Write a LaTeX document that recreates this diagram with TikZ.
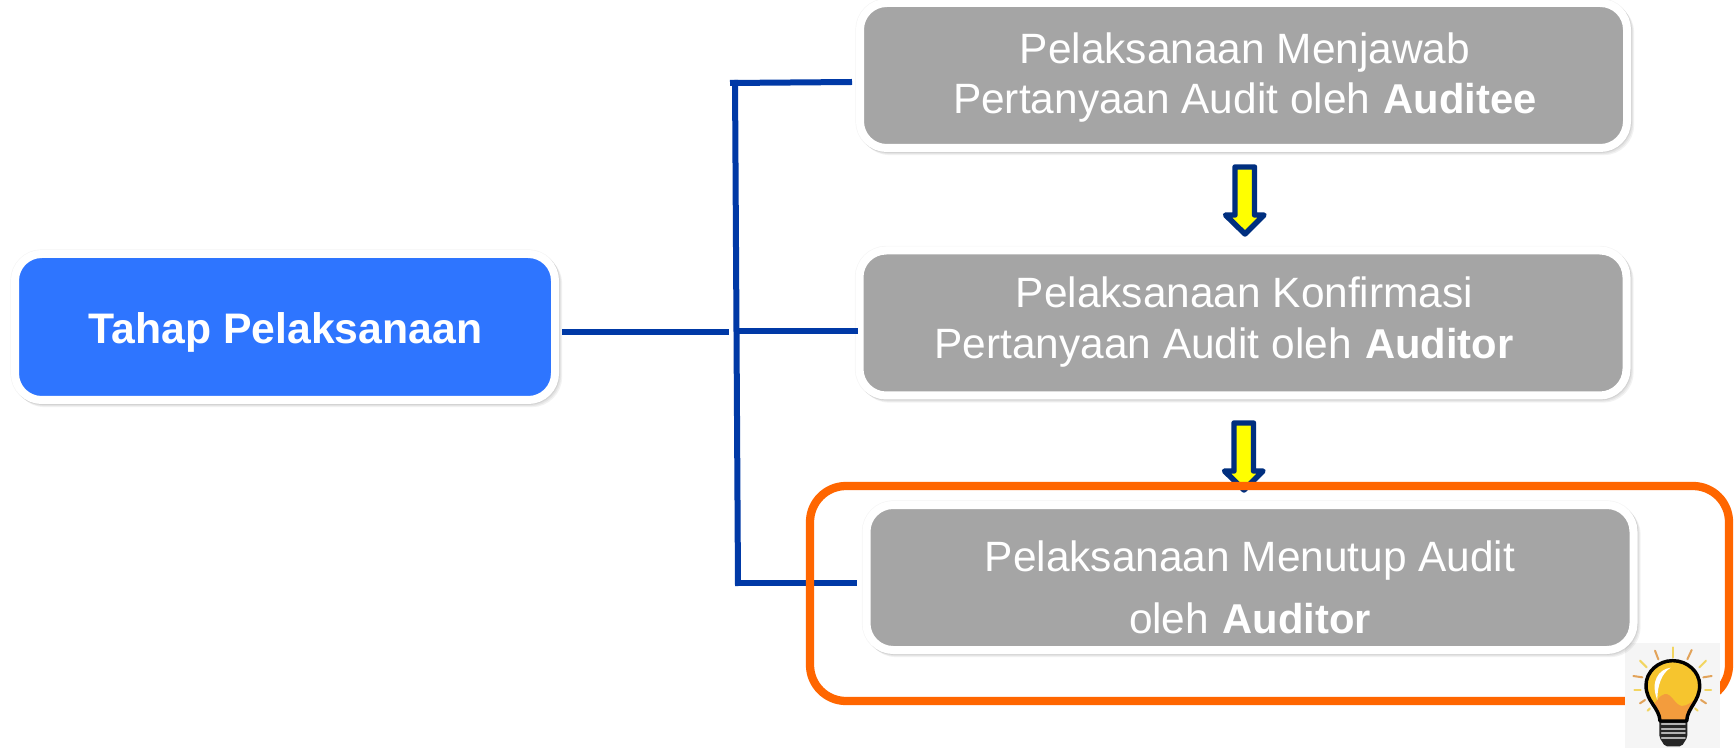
\documentclass[tikz,border=0pt]{standalone}
\usepackage{fontspec}
\setmainfont{Liberation Sans}
\usetikzlibrary{backgrounds}
\definecolor{boxgray}{HTML}{A5A5A5}
\definecolor{rootblue}{HTML}{2E75FF}
\definecolor{linkblue}{HTML}{0039A6}
\definecolor{hiorange}{HTML}{FF6600}
\definecolor{arrownavy}{HTML}{002F7F}
\definecolor{arrowyellow}{HTML}{FFFF00}
\definecolor{bulbyellow}{HTML}{F6C52E}
\definecolor{bulborange}{HTML}{F39C3D}
\definecolor{raya}{HTML}{E2A35A}
\definecolor{rayb}{HTML}{F2D560}
\newcommand{\bw}[1]{\hspace{1.3pt}{\fontsize{31.3}{38}\selectfont\bfseries #1}}
\tikzset{
  softshadow/.style={preaction={draw=black,draw opacity=.05,fill=none,transform canvas={xshift=#1pt,yshift=-#1pt}}},
  cardbox/.style={rounded corners=20pt,draw=white,line width=6pt,inner sep=0pt,outer sep=0pt,
    preaction={draw=black,draw opacity=.04,line width=7pt,fill=none},
    softshadow=0.8,softshadow=1.6,softshadow=2.4},
  graybox/.style={cardbox,fill=boxgray,minimum width=575.25pt,minimum height=108.75pt},
  rootbox/.style={cardbox,fill=rootblue,minimum width=405pt,minimum height=109.5pt},
  txt/.style={text=white,anchor=base,inner sep=0pt,font=\fontsize{31.8}{38}\selectfont},
  link/.style={draw=linkblue,line width=4.5pt,line cap=butt,line join=miter},
  fatarrow/.style={draw=arrownavy,fill=arrowyellow,line width=4.1pt,line join=round},
  hibox/.style={draw=hiorange,line width=6.2pt,rounded corners=27pt},
  rayA/.style={draw=raya,line width=1.5pt},
  rayB/.style={draw=rayb,line width=1.5pt}
}
\begin{document}
\begin{tikzpicture}[x=0.75pt,y=-0.75pt]
\useasboundingbox (0,0) rectangle (1735,748);

% boxes
\node[rootbox] (root) at (285,327) {};
\node[graybox] (b1) at (1243.5,75.5) {};
\node[graybox] (b2) at (1243,323) {};
\node[graybox] (b3) at (1250,577.5) {};

% texts
\node[txt,font=\fontsize{32.05}{38}\selectfont\bfseries] (t0) at (285.5,344) {Tahap Pelaksanaan};
\node[txt] (t1a) at (1245,64) {Pelaksanaan Menjawab};
\node[txt] (t1b) at (1245,114) {Pertanyaan Audit oleh \bw{Auditee}};
\node[txt] (t2a) at (1244.5,307.5) {Pelaksanaan Konfirmasi};
\node[txt] (t2b) at (1224,359) {Pertanyaan Audit oleh \bw{Auditor}};
\node[txt] (t3a) at (1250,571) {Pelaksanaan Menutup Audit};
\node[txt] (t3b) at (1250,633) {oleh \bw{Auditor}};

% connectors that lie over the white rims
\coordinate (j0) at ([xshift=5.5pt,yshift=-3.75pt]root.east);
\coordinate (jm) at (738,331);
\coordinate (jb) at (738,583);
\draw[link] (j0) -- ([xshift=-6.5pt]jm |- j0);
\draw[link] (jm) -- ([xshift=-1.5pt]b2.west |- jm);

\begin{scope}[on background layer]
  \fill[white] (0,0) rectangle (1735,748);
  % connectors
  \draw[link] (730,83) -- ([xshift=-6pt]b1.west |- 0,82);
  \draw[link] (735,80) -- (738,586);
  \draw[link] (735,583) -- ([xshift=-7.5pt]b3.west |- jb);
  % block arrows between the boxes
  \coordinate (a1top) at (1235,167);
  \draw[fatarrow] (a1top) -- ++(19.5,0) -- ++(0,48) -- ++(9.5,0) -- ++(-19,19) -- ++(-19.5,-19) -- ++(9.5,0) -- cycle;
  \coordinate (a2top) at (1234,423);
  \draw[fatarrow] (a2top) -- ++(19.5,0) -- ++(0,48) -- ++(9.5,0) -- ++(-19,19) -- ++(-19.5,-19) -- ++(9.5,0) -- cycle;
  % highlight
  \draw[hibox] (810,486) rectangle (1729,701);
  % bulb
  \fill[black!4] (1625,643) rectangle (1720,748);
  \begin{scope}[shift={(1600,620)},x=0.25pt,y=-0.25pt,line cap=round]
    \draw[rayA] (165,92) -- (175,118);
    \draw[rayB] (218,82) -- (218,112);
    \draw[rayA] (275,90) -- (262,118);
    \draw[rayB] (120,122) -- (140,142);
    \draw[rayB] (318,122) -- (298,142);
    \draw[rayA] (100,168) -- (127,172);
    \draw[rayA] (335,168) -- (310,172);
    \draw[rayB] (103,210) -- (122,210);
    \draw[rayB] (333,210) -- (315,210);
    \draw[rayA] (120,250) -- (135,240);
    \draw[rayA] (318,250) -- (303,240);
    \draw[rayB] (143,272) -- (150,265);
    \draw[rayB] (293,272) -- (285,265);
    \fill[black!85,rounded corners=1.5pt] (178,298) -- (262,298) -- (262,352) -- (245,379) -- (195,379) -- (178,352) -- cycle;
    \foreach \yy in {312,326,340,354} \draw[black!30,line width=1.3pt] (185,\yy) -- (255,\yy);
    \def\globe{(180,303) .. controls (178,262) and (138,245) .. (138,196)
      .. controls (138,155) and (175,122) .. (218,122)
      .. controls (262,122) and (299,155) .. (299,196)
      .. controls (299,245) and (262,262) .. (260,303) -- cycle}
    \fill[bulbyellow] \globe;
    \begin{scope}
      \clip \globe;
      \fill[bulborange] (150,262) .. controls (170,250) and (175,225) .. (195,222)
        .. controls (215,220) and (225,255) .. (245,258) .. controls (262,258) and (275,245) .. (290,235)
        -- (290,310) -- (150,310) -- cycle;
    \end{scope}
    \fill[white] (212,143) .. controls (175,148) and (150,185) .. (172,240)
       .. controls (172,195) and (185,160) .. (212,143) -- cycle;
    \draw[black,line width=2.6pt,line join=round] \globe;
  \end{scope}
\end{scope}
\end{tikzpicture}
\end{document}
